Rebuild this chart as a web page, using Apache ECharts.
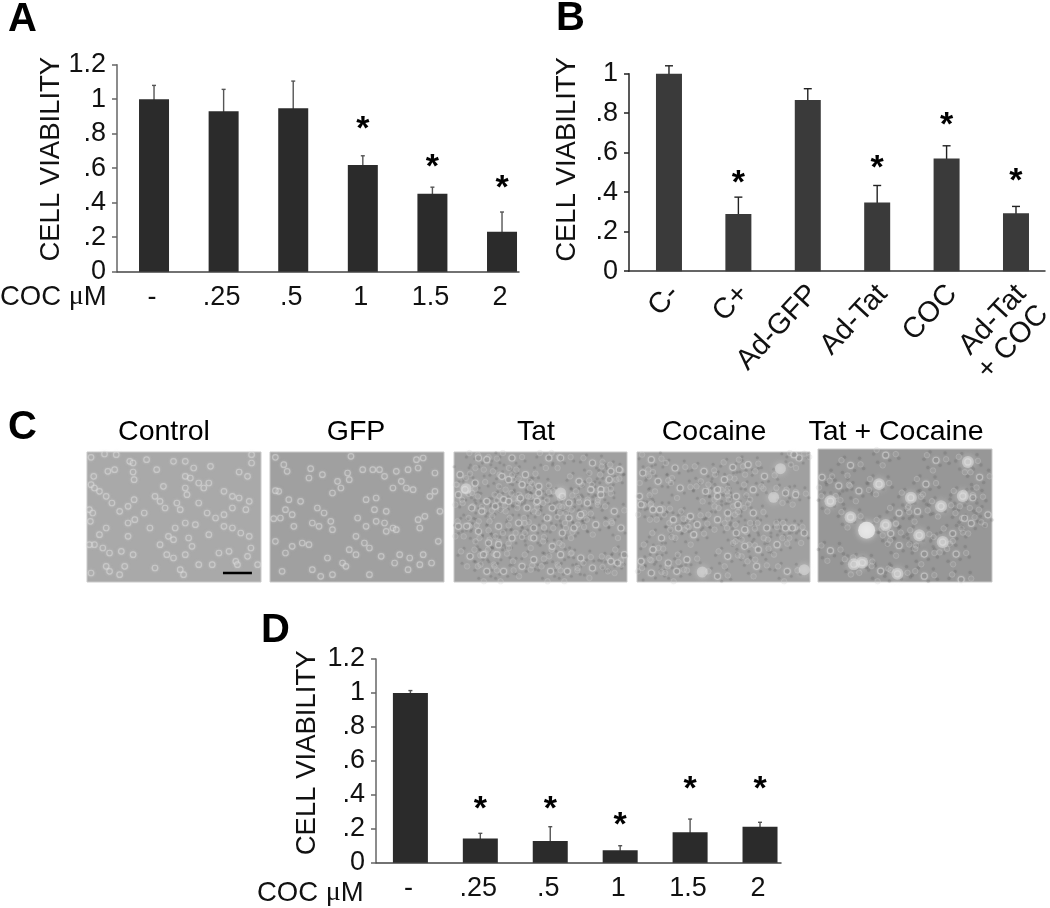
<!DOCTYPE html>
<html><head><meta charset="utf-8">
<style>html,body{margin:0;padding:0;background:#fff}#c{width:1050px;height:908px}</style>
<script src="https://cdn.jsdelivr.net/npm/echarts@6/dist/echarts.min.js"></script>
</head><body><div id="c"></div>
<script>
// ---- Panel A
const catsA = ['-', '.25', '.5', '1', '1.5', '2'];
const valuesA = [1.0, 0.93, 0.947, 0.618, 0.452, 0.232];
const errTopA = [1.08, 1.057, 1.105, 0.672, 0.49, 0.346];
const errLowA = [0.92, 0.80, 0.79, 0.57, 0.415, 0.12];
const starsA = [null, null, null, 0.866, 0.642, 0.522];
// ---- Panel B
const catsB = ['C-', 'C+', 'Ad-GFP', 'Ad-Tat', 'COC', 'Ad-Tat\n+ COC'];
const valuesB = [1.0, 0.289, 0.867, 0.348, 0.571, 0.294];
const errTopB = [1.04, 0.375, 0.924, 0.434, 0.635, 0.328];
const errLowB = [0.95, 0.20, 0.81, 0.26, 0.513, 0.264];
const starsB = [null, 0.48, null, 0.557, 0.774, 0.49];
// ---- Panel D
const catsD = ['-', '.25', '.5', '1', '1.5', '2'];
const valuesD = [1.0, 0.143, 0.128, 0.073, 0.179, 0.212];
const errTopD = [1.014, 0.173, 0.212, 0.10, 0.257, 0.238];
const errLowD = [0.986, 0.113, 0.05, 0.046, 0.10, 0.186];
const starsD = [null, 0.352, 0.352, 0.26, 0.472, 0.472];
const ticksY12 = [0, 0.2, 0.4, 0.6, 0.8, 1, 1.2];
const ticksY1 = [0, 0.2, 0.4, 0.6, 0.8, 1];
const tickText = {0:'0',0.2:'.2',0.4:'.4',0.6:'.6',0.8:'.8',1:'1',1.2:'1.2'};
const yName = 'CELL VIABILITY';
const panelNames = ['Control', 'GFP', 'Tat', 'Cocaine', 'Tat + Cocaine'];
// ---- Panel C: cell positions
const cellsControl = [[20,28],[60,18],[95,20],[135,40],[145,45],[148,95],[145,72],[185,35],[215,65],[265,40],[300,40],[325,60],[300,85],[315,90],[375,55],[460,72],[485,85],[497,45],[497,20],[70,70],[90,65],[28,85],[20,110],[45,130],[30,120],[65,145],[82,165],[148,155],[130,175],[105,190],[178,195],[15,185],[25,195],[18,220],[65,240],[130,225],[150,215],[210,145],[225,160],[240,180],[235,115],[275,165],[285,185],[305,140],[300,120],[340,105],[355,120],[370,105],[415,130],[440,145],[460,150],[490,160],[480,185],[440,180],[415,200],[390,210],[365,195],[340,165],[300,225],[330,230],[270,240],[250,265],[265,275],[310,270],[370,260],[415,235],[440,240],[465,255],[490,265],[45,260],[30,290],[15,290],[55,300],[75,315],[130,265],[145,320],[110,310],[195,240],[225,290],[245,320],[265,330],[300,320],[320,295],[400,315],[430,310],[495,300],[485,325],[450,340],[455,350],[120,355],[65,355],[75,370],[20,375],[105,380],[210,360],[285,365],[295,380],[340,350],[380,350],[515,350]];
const cellsGFP = [[20,28],[45,50],[55,70],[125,62],[160,80],[120,90],[30,130],[20,128],[60,155],[95,160],[145,180],[165,195],[50,185],[70,200],[35,210],[15,212],[130,225],[150,235],[185,220],[190,245],[75,235],[205,100],[215,120],[235,75],[240,95],[190,135],[245,25],[280,65],[310,65],[330,65],[345,85],[290,155],[320,150],[315,185],[350,190],[265,210],[290,235],[320,220],[345,225],[370,240],[380,245],[350,250],[260,265],[285,285],[240,305],[260,320],[300,300],[335,325],[120,290],[100,285],[70,295],[50,315],[20,280],[175,330],[220,345],[230,355],[40,370],[130,365],[155,385],[190,380],[300,380],[375,345],[390,320],[420,330],[460,320],[450,350],[485,345],[415,365],[505,280],[465,205],[445,215],[450,240],[480,145],[495,130],[510,190],[380,70],[395,100],[410,120],[430,125],[370,120],[415,65],[445,60],[460,30],[495,75],[440,35]];
const cellsTat = [[75,30],[100,35],[175,30],[285,30],[320,30],[415,45],[470,70],[495,65],[20,80],[65,105],[35,125],[15,140],[145,85],[165,95],[215,80],[205,110],[255,115],[255,135],[325,145],[375,100],[410,125],[440,125],[465,95],[100,160],[150,155],[165,160],[55,180],[85,190],[125,175],[200,150],[220,180],[250,160],[295,180],[345,165],[400,165],[440,140],[15,235],[40,235],[75,250],[105,285],[135,235],[195,225],[240,240],[280,210],[345,210],[380,200],[325,255],[240,270],[135,290],[175,270],[295,295],[360,240],[425,230],[480,190],[500,240],[50,325],[90,320],[130,320],[205,355],[240,335],[320,320],[380,330],[415,360],[470,340],[490,345],[100,370],[150,370],[290,370],[340,370],[510,320]];
const clumpsTat = [[320,135],[38,122]];
const cellsCocaine = [[45,35],[20,75],[65,100],[115,60],[200,70],[285,58],[260,95],[330,50],[378,85],[480,30],[465,20],[440,135],[470,140],[10,145],[15,170],[50,185],[70,185],[130,120],[205,130],[240,125],[295,145],[345,125],[240,145],[110,215],[125,240],[160,205],[180,230],[270,195],[300,170],[345,195],[385,240],[440,240],[460,240],[495,255],[75,270],[170,260],[295,255],[320,245],[320,295],[360,305],[415,290],[270,325],[15,340],[95,345],[150,335],[355,355],[50,305],[240,215],[445,370],[45,375],[240,385],[120,370]];
const clumpsCocaine = [[195,372],[495,365],[405,148],[425,62]];
const cellsTatCocaine = [[485,95],[245,200],[300,195],[125,135],[65,120],[15,95],[325,115],[355,45],[465,155],[510,205],[440,215],[460,230],[405,260],[320,320],[245,295],[40,310],[220,260],[190,370],[320,385],[430,395],[415,320],[100,60],[205,30]];
const clumpsTatCocaine = [[100,212],[205,235],[110,350],[135,345],[240,378],[185,115],[40,165],[450,50],[435,150],[280,155],[370,180],[305,265],[375,285]];
const largeCellsTatCocaine = [[148,250]];
const scaleBar = [[412,375],[498,375]];

const FONT = '"Liberation Sans", Arial, sans-serif';
const FS = 27;
const chart = echarts.init(document.getElementById('c'), null, {renderer:'canvas'});

const grids = [], xAxes = [], yAxes = [], series = [];

function barPanel(cfg){
  const k = grids.length;
  grids.push({left:cfg.left, top:cfg.top, width:cfg.width, height:cfg.height, containLabel:false, outerBoundsMode:'none'});
  // axis ends carry empty labels so the overlap check never drops a real label
  const idx = [cfg.xMin].concat(cfg.cats.map((_,i)=>i), [cfg.xMax]);
  xAxes.push({gridIndex:k, type:'value', min:cfg.xMin, max:cfg.xMax, splitLine:{show:false},
    axisLine:{show:true, onZero:false, lineStyle:{color:cfg.xColor, width:1.5}}, axisTick:{show:false},
    axisLabel:Object.assign({show:true, customValues:idx, formatter:v=>cfg.cats[v]||'', color:'#111',
      fontFamily:FONT, fontSize:FS, margin:cfg.labelMargin, padding:[0,4,0,0], hideOverlap:false, showMinLabel:false, showMaxLabel:false}, cfg.xLabel||{})});
  yAxes.push({gridIndex:k, type:'value', min:0, max:cfg.yMax, interval:0.2, splitLine:{show:false},
    name:yName, nameLocation:'middle', nameRotate:90, nameGap:cfg.nameGap, nameMoveOverlap:false,
    nameTextStyle:{color:'#111', fontFamily:FONT, fontSize:27.5, padding:[0,0,0,cfg.nameShift]},
    axisLine:{show:true, onZero:false, lineStyle:{color:cfg.yColor, width:1.5}},
    axisTick:{show:true, length:5, lineStyle:{color:cfg.yColor, width:1.5}},
    axisLabel:{color:'#111', fontFamily:FONT, fontSize:FS, margin:11, padding:[4,0,0,0], formatter:v=>tickText[+v.toFixed(1)],
      customValues:cfg.ticks, showMinLabel:true, showMaxLabel:true}});
  series.push({type:'bar', xAxisIndex:k, yAxisIndex:k, barWidth:cfg.barW, silent:true,
    itemStyle:{color:cfg.barColor}, data:cfg.values.map((v,i)=>[i,v]), animation:false});
  series.push({type:'custom', xAxisIndex:k, yAxisIndex:k, silent:true, animation:false, clip:false,
    encode:{x:0,y:1},
    data:cfg.values.map((v,i)=>[i,v]),
    renderItem:(p,api)=>{
      const i=p.dataIndex;
      const lo=api.coord([i,cfg.errLow[i]]), hi=api.coord([i,cfg.errTop[i]]);
      const w=cfg.capW, st={stroke:cfg.errColor, lineWidth:1.4};
      const kids=[
        {type:'line',shape:{x1:lo[0],y1:lo[1],x2:hi[0],y2:hi[1]},style:st},
        {type:'line',shape:{x1:hi[0]-w,y1:hi[1],x2:hi[0]+w,y2:hi[1]},style:st},
        {type:'line',shape:{x1:lo[0]-w,y1:lo[1],x2:lo[0]+w,y2:lo[1]},style:st}
      ];
      if(cfg.stars[i]!==null){
        const s=api.coord([i,cfg.stars[i]]);
        kids.push({type:'text',x:s[0],y:s[1]+7,style:{text:'*',fill:'#000',font:'bold 34px '+FONT,textAlign:'center',textVerticalAlign:'middle'}});
      }
      return {type:'group',children:kids};
    }});
}

barPanel({cats:catsA,values:valuesA,errTop:errTopA,errLow:errLowA,stars:starsA,
  left:117,top:64.7,width:402,height:207,xMin:-0.532,xMax:5.244,yMax:1.2,ticks:ticksY12,
  barW:30,barColor:'#2b2b2b',errColor:'#555',capW:2,xColor:'#444',yColor:'#666',
  nameGap:52,nameShift:18,labelMargin:12});
barPanel({cats:catsB,values:valuesB,errTop:errTopB,errLow:errLowB,stars:starsB,
  left:629,top:73.7,width:416,height:197.5,xMin:-0.576,xMax:5.418,yMax:1,ticks:ticksY1,
  barW:26,barColor:'#3a3a3a',errColor:'#222',capW:4,xColor:'#333',yColor:'#222',
  nameGap:48,nameShift:26,labelMargin:2,
  xLabel:{rotate:47,lineHeight:30,fontSize:29,verticalAlign:'top',padding:[0,8,0,0]}});
barPanel({cats:catsD,values:valuesD,errTop:errTopD,errLow:errLowD,stars:starsD,
  left:376,top:659,width:405,height:203.7,xMin:-0.492,xMax:5.30,yMax:1.2,ticks:ticksY12,
  barW:35,barColor:'#2b2b2b',errColor:'#555',capW:2,xColor:'#444',yColor:'#666',
  nameGap:55,nameShift:16,labelMargin:12});

function photoPanel(cfg){
  const k=grids.length;
  grids.push({left:cfg.left,top:cfg.top,width:cfg.width,height:cfg.height,show:true,outerBoundsMode:'none',
    backgroundColor:cfg.bg,borderColor:'#c9c9c9',borderWidth:1});
  xAxes.push({gridIndex:k,type:'value',min:cfg.x0,max:cfg.x1,show:false});
  yAxes.push({gridIndex:k,type:'value',min:12,max:402,inverse:true,show:false});
  const base={type:'scatter',xAxisIndex:k,yAxisIndex:k,silent:true,animation:false,symbol:'circle',clip:true};
  const shifted=(list,off)=>list.map(c=>[c[0]+off[0],c[1]+off[1]]);
  // speckle texture of the denser cultures: soft dark dots and faint rings beside each read cell
  (cfg.speckle||[]).forEach(off=>series.push(Object.assign({},base,{symbolSize:cfg.speckleSize,
    itemStyle:{color:'rgba(60,60,60,0.2)',shadowBlur:3,shadowColor:'rgba(60,60,60,0.3)'},data:shifted(cfg.cells,off)})));
  (cfg.glow||[]).forEach(off=>series.push(Object.assign({},base,{symbolSize:cfg.ring-0.5,
    itemStyle:{color:'rgba(190,190,190,0.15)',borderColor:'rgba(215,215,215,0.3)',borderWidth:1,shadowBlur:2,shadowColor:'rgba(230,230,230,0.35)'},data:shifted(cfg.cells,off)})));
  series.push(Object.assign({},base,{symbolSize:cfg.ring,
    itemStyle:{color:cfg.fill,borderColor:'rgba(225,225,225,0.6)',borderWidth:1.2,shadowBlur:3,shadowColor:'rgba(235,235,235,0.7)'},data:cfg.cells}));
  if(cfg.clumps) series.push(Object.assign({},base,{symbolSize:cfg.clumpSize,
    itemStyle:{color:'rgba(225,225,225,0.6)',shadowBlur:7,shadowColor:'rgba(240,240,240,0.9)'},data:cfg.clumps}));
  if(cfg.large) series.push(Object.assign({},base,{symbolSize:17,
    itemStyle:{color:'rgba(238,238,238,0.92)',shadowBlur:6,shadowColor:'rgba(245,245,245,0.9)'},data:cfg.large}));
  if(cfg.bar) series.push({type:'line',xAxisIndex:k,yAxisIndex:k,silent:true,animation:false,symbol:'none',
    lineStyle:{color:'#000',width:2.5},data:cfg.bar});
}
const spk=[[12,15],[-24,21],[27,-21],[-18,-24],[39,9],[-36,-3]];
const glw=[[30,-3],[-9,30],[-27,-15]];
photoPanel({left:87,top:452,width:174,height:130,x0:8,x1:525,bg:'#a9a9a9',ring:5.5,fill:'rgba(140,140,140,0.3)',cells:cellsControl,bar:scaleBar});
photoPanel({left:270,top:452,width:174,height:130,x0:4,x1:522,bg:'#a0a0a0',ring:5.5,fill:'rgba(130,130,130,0.3)',cells:cellsGFP});
photoPanel({left:454,top:452,width:173,height:130,x0:2,x1:518,bg:'#a0a0a0',ring:6,fill:'rgba(80,80,80,0.4)',cells:cellsTat,clumps:clumpsTat,clumpSize:11,speckle:spk,speckleSize:3,glow:glw});
photoPanel({left:637,top:452,width:173,height:130,x0:3,x1:512,bg:'#a0a0a0',ring:6,fill:'rgba(80,80,80,0.4)',cells:cellsCocaine,clumps:clumpsCocaine,clumpSize:11,speckle:spk,speckleSize:3,glow:glw});
photoPanel({left:818,top:449,width:174,height:133,x0:3,x1:522,bg:'#979797',ring:6,fill:'rgba(80,80,80,0.4)',cells:cellsTatCocaine.concat(clumpsTatCocaine),clumps:clumpsTatCocaine,clumpSize:12,large:largeCellsTatCocaine,speckle:spk,speckleSize:3.5,glow:glw});

const letter = {fontFamily:FONT,fontWeight:'bold',fontSize:40,color:'#000'};
const nameStyle = {fontFamily:FONT,color:'#000',fontWeight:'normal',fontSize:28.5};
const titles = [
  {text:'A',left:8,top:0,textStyle:letter,padding:0},
  {text:'B',left:556,top:-1,textStyle:letter,padding:0},
  {text:'C',left:8,top:408,textStyle:letter,padding:0},
  {text:'D',left:261,top:611,textStyle:letter,padding:0}
];
[164,356,536,714,896].forEach((c,i)=>titles.push({text:panelNames[i],left:c,top:418,textAlign:'center',padding:0,textStyle:nameStyle}));
const coc = '{t|COC }{m|\u03bc}{t|M}';
const cocRich = {t:{fontFamily:FONT,fontSize:27.5,fontWeight:'normal',color:'#111'},m:{fontFamily:'"Liberation Serif",serif',fontWeight:'normal',fontSize:28,color:'#111'}};
titles.push({text:coc,left:0,top:283,padding:0,textStyle:{rich:cocRich,fontWeight:'normal'}});
titles.push({text:coc,left:257,top:879,padding:0,textStyle:{rich:cocRich,fontWeight:'normal'}});

chart.setOption({animation:false,backgroundColor:'#fff',title:titles,grid:grids,xAxis:xAxes,yAxis:yAxes,series:series});
</script></body></html>
